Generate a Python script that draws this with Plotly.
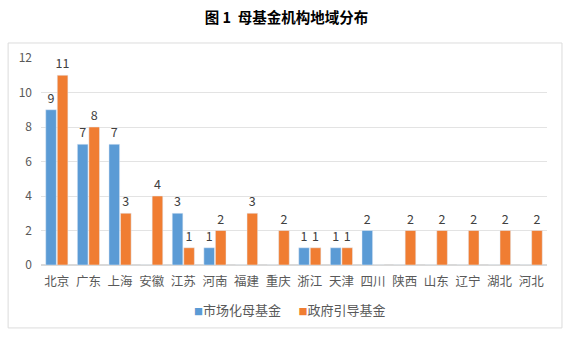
import plotly.graph_objects as go

categories = ["北京", "广东", "上海", "安徽", "江苏", "河南", "福建", "重庆",
              "浙江", "天津", "四川", "陕西", "山东", "辽宁", "湖北", "河北"]
market_fof = [9, 7, 7, 0, 3, 1, 0, 0, 1, 1, 2, 0, 0, 0, 0, 0]
gov_fund = [11, 8, 3, 4, 1, 2, 3, 2, 1, 1, 0, 2, 2, 2, 2, 2]
series_names = ["市场化母基金", "政府引导基金"]
title_text = "图 1  母基金机构地域分布"

FONT = "Noto Sans CJK SC, Microsoft YaHei, sans-serif"
TXT = "#595959"
BLUE = "#5B9BD5"
ORANGE = "#F07D32"


def labels(vals):
    return [str(v) if v else "" for v in vals]


fig = go.Figure()
fig.add_trace(go.Bar(
    x=categories, y=market_fof, name=series_names[0],
    marker=dict(color=BLUE),
    text=labels(market_fof), textposition="outside", constraintext="none",
    textfont=dict(color="#404040", size=12.5), cliponaxis=False,
))
fig.add_trace(go.Bar(
    x=categories, y=gov_fund, name=series_names[1],
    marker=dict(color=ORANGE),
    text=labels(gov_fund), textposition="outside", constraintext="none",
    textfont=dict(color="#404040", size=12.5), cliponaxis=False,
))

legend_text = (
    "<span style='color:%s;font-size:9px'>■</span>%s"
    "      "
    "<span style='color:%s;font-size:9px'>■</span>%s"
) % (BLUE, series_names[0], ORANGE, series_names[1])

fig.update_layout(
    width=573, height=338,
    margin=dict(l=41, r=26, t=58, b=73),
    paper_bgcolor="white", plot_bgcolor="white",
    font=dict(family=FONT, color=TXT, size=12),
    barmode="group", bargap=0.27, bargroupgap=0.08,
    title=dict(text="<b>" + title_text + "</b>", x=0.5, xanchor="center",
               y=1 - 18 / 338, yanchor="middle",
               font=dict(size=14.5, color="#000000", family=FONT)),
    showlegend=False,
    annotations=[dict(text=legend_text, xref="paper", yref="paper",
                      x=(290 - 41) / 506, y=(265 - 309) / 207,
                      xanchor="center", yanchor="middle", showarrow=False,
                      font=dict(size=13, color=TXT, family=FONT))],
    xaxis=dict(showgrid=False, showline=True, linecolor="#D9D9D9", ticks="",
               tickfont=dict(size=12.5, color=TXT), ticklabelstandoff=5),
    yaxis=dict(range=[0, 12], dtick=2, showgrid=True, gridcolor="#E3E3E3",
               gridwidth=1, zeroline=True, zerolinecolor="#D9D9D9",
               showline=False, ticks="", tickfont=dict(size=12, color=TXT),
               ticklabelstandoff=8),
    shapes=[dict(type="rect", xref="paper", yref="paper",
                 x0=-0.065, x1=1.0296, y0=-0.304, y1=1.0725,
                 line=dict(color="#DCDCDC", width=1), fillcolor="rgba(0,0,0,0)",
                 layer="below")],
)

fig.write_html("out.html")
